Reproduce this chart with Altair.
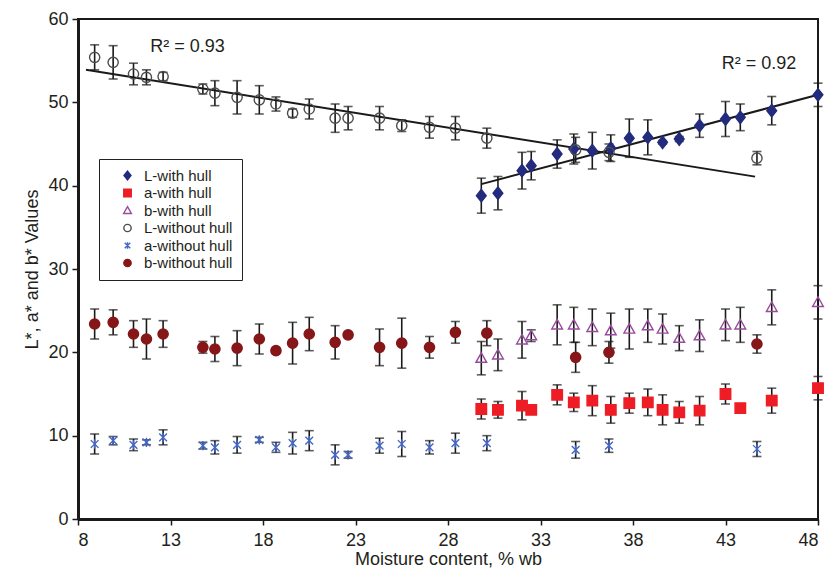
import altair as alt
import pandas as pd

# ---------------- data ----------------
# samples without hull (shared moisture contents)
wo_x = [8.9, 9.9, 11.0, 11.7, 12.6, 14.75, 15.4, 16.6, 17.8, 18.7, 19.6,
        20.5, 21.9, 22.6, 24.3, 25.5, 27.0, 28.4, 30.1, 34.9, 36.7, 44.7]
L_wo = [55.4, 54.8, 53.4, 53.0, 53.1, 51.6, 51.1, 50.6, 50.3, 49.8, 48.7,
        49.2, 48.1, 48.1, 48.1, 47.2, 47.0, 46.9, 45.7, 44.3, 44.0, 43.3]
L_wo_err = [1.5, 2.0, 1.3, 0.9, 0.5, 0.6, 1.5, 2.0, 1.7, 0.85, 0.5,
            1.2, 1.7, 1.4, 1.4, 0.7, 1.3, 1.4, 1.2, 1.5, 1.0, 0.8]
a_wo = [9.0, 9.4, 8.9, 9.2, 9.8, 8.8, 8.6, 8.9, 9.5, 8.6, 9.1,
        9.4, 7.7, 7.7, 8.8, 9.0, 8.6, 9.1, 9.1, 8.3, 8.8, 8.4]
a_wo_err = [1.2, 0.5, 0.7, 0.3, 0.9, 0.4, 0.8, 1.0, 0.3, 0.6, 1.3,
            1.2, 1.2, 0.4, 0.9, 1.5, 0.8, 1.2, 0.9, 1.0, 0.8, 0.9]
b_wo = [23.4, 23.6, 22.2, 21.6, 22.2, 20.6, 20.4, 20.5, 21.6, 20.2, 21.1,
        22.2, 21.2, 22.1, 20.6, 21.1, 20.6, 22.4, 22.3, 19.4, 20.0, 21.0]
b_wo_err = [1.8, 1.5, 1.6, 2.4, 1.6, 0.7, 1.5, 2.1, 1.8, 0.3, 2.5,
            2.0, 2.0, 0.3, 2.2, 3.0, 1.3, 1.3, 1.5, 1.8, 1.3, 1.1]

# samples with hull
wh_x = [29.8, 30.7, 32.0, 32.5, 33.9, 34.8, 35.8, 36.8, 37.8, 38.8, 39.6,
        40.5, 41.6, 43.0, 43.8, 45.5, 48.0]
L_wh = [38.8, 39.1, 41.8, 42.4, 43.8, 44.4, 44.2, 44.5, 45.7, 45.8, 45.2,
        45.6, 47.2, 48.0, 48.2, 49.0, 50.9]
L_wh_err = [2.1, 2.0, 2.2, 1.7, 1.7, 1.8, 2.2, 1.6, 2.3, 2.1, 0.2,
            0.3, 1.4, 2.1, 1.6, 1.7, 1.4]
a_wh = [13.2, 13.1, 13.6, 13.1, 14.9, 14.0, 14.2, 13.1, 13.9, 14.0, 13.1,
        12.8, 13.0, 15.0, 13.3, 14.2, 15.7]
a_wh_err = [1.2, 1.0, 1.7, 0.4, 1.2, 1.1, 1.8, 1.6, 1.2, 1.6, 1.8,
            1.3, 1.7, 1.2, 0.5, 1.5, 1.4]
b_wh = [19.3, 19.7, 21.5, 22.0, 23.3, 23.3, 23.0, 22.6, 22.8, 23.2, 22.8,
        21.7, 22.0, 23.3, 23.3, 25.4, 26.0]
b_wh_err = [2.0, 1.9, 2.2, 0.7, 2.4, 2.1, 2.2, 2.1, 2.4, 2.0, 1.8,
            1.5, 1.9, 1.9, 2.1, 2.1, 2.0]

series_names = ["L-with hull", "a-with hull", "b-with hull",
                "L-without hull", "a-without hull", "b-without hull"]

r2_text = ["R\u00b2 = 0.93", "R\u00b2 = 0.92"]
r2_x = [11.9, 42.8]
r2_y = [56.6, 54.6]

x_ticks = [8, 13, 18, 23, 28, 33, 38, 43, 48]

# ---------------- build tables ----------------
rows = []
def add(name, xs, ys, es):
    for x, y, e in zip(xs, ys, es):
        rows.append({"x": x, "y": y, "err": e, "lo": y - e, "hi": y + e,
                     "series": name})

add("L-with hull", wh_x, L_wh, L_wh_err)
add("a-with hull", wh_x, a_wh, a_wh_err)
add("b-with hull", wh_x, b_wh, b_wh_err)
add("L-without hull", wo_x, L_wo, L_wo_err)
add("a-without hull", wo_x, a_wo, a_wo_err)
add("b-without hull", wo_x, b_wo, b_wo_err)
df = pd.DataFrame(rows)

df_Lwo = pd.DataFrame({"x": wo_x, "y": L_wo})
df_Lwh = pd.DataFrame({"x": wh_x, "y": L_wh})
df_r2 = pd.DataFrame({"x": r2_x, "y": r2_y, "t": r2_text})

FONT = "Liberation Sans, Arial, sans-serif"
TXT = "#231f20"

xs = alt.Scale(domain=[8, 48], nice=False, zero=False)
ys = alt.Scale(domain=[0, 60], nice=False)

X = alt.X("x:Q", scale=xs, title="Moisture content, % wb",
          axis=alt.Axis(values=x_ticks, grid=False))
Y = alt.Y("y:Q", scale=ys, title="L*, a* and b* Values",
          axis=alt.Axis(values=[0, 10, 20, 30, 40, 50, 60], grid=False))

base = alt.Chart(df)

err_rule = base.mark_rule(color="#1a1a1a", strokeWidth=1.6).encode(
    x=X, y=alt.Y("lo:Q", scale=ys, title="L*, a* and b* Values"), y2="hi:Q")
cap_lo = base.mark_tick(color="#1a1a1a", orient="horizontal", size=9,
                        thickness=1.6).encode(
    x=X, y=alt.Y("lo:Q", scale=ys, title="L*, a* and b* Values"))
cap_hi = base.mark_tick(color="#1a1a1a", orient="horizontal", size=9,
                        thickness=1.6).encode(
    x=X, y=alt.Y("hi:Q", scale=ys, title="L*, a* and b* Values"))

# symbol outlines in the unit square (-1..1), drawn at one common size
diamond = "M-0.78,0L0,-1L0.78,0L0,1Z"
square = "M-0.84,-0.84L0.84,-0.84L0.84,0.84L-0.84,0.84Z"
triangle = "M0,-0.86L0.86,0.66L-0.86,0.66Z"
circle = "M-0.82,0A0.82,0.82,0,1,0,0.82,0A0.82,0.82,0,1,0,-0.82,0Z"
asterisk = "M0,-0.75L0,0.75M-0.62,-0.62L0.62,0.62M-0.62,0.62L0.62,-0.62"

shape_scale = alt.Scale(domain=series_names,
                        range=[diamond, square, triangle, circle,
                               asterisk, circle])
fill_scale = alt.Scale(domain=series_names,
                       range=["#232b7d", "#ee1d25", "transparent",
                              "transparent", "transparent", "#861617"])
stroke_scale = alt.Scale(domain=series_names,
                         range=["#232b7d", "#ee1d25", "#9a4a9e", "#4d4d4d",
                                "#4466c4", "#861617"])

legend = alt.Legend(title=None)

points = base.mark_point(strokeWidth=1.4, opacity=1, size=156).encode(
    x=X, y=Y,
    shape=alt.Shape("series:N", scale=shape_scale, legend=legend),
    fill=alt.Fill("series:N", scale=fill_scale, legend=legend),
    stroke=alt.Stroke("series:N", scale=stroke_scale, legend=legend),
)

reg1 = alt.Chart(df_Lwo).transform_regression(
    "x", "y", extent=[8.43, 44.6]).mark_line(color="#1a1a1a", strokeWidth=2).encode(x=X, y=Y)
reg2 = alt.Chart(df_Lwh).transform_regression(
    "x", "y", extent=[29.8, 48.0]).mark_line(color="#1a1a1a", strokeWidth=2).encode(x=X, y=Y)

r2 = alt.Chart(df_r2).mark_text(align="left", baseline="middle", fontSize=18,
                                 font=FONT, color=TXT).encode(x=X, y=Y, text="t:N")

chart = alt.layer(reg1, reg2, err_rule, cap_lo, cap_hi, points, r2).properties(
    width=740, height=500,
    autosize=alt.AutoSizeParams(type="none"),
    padding={"left": 70, "top": 11, "right": 11, "bottom": 51},
).configure_view(
    stroke="#1a1a1a", strokeWidth=2
).configure_axis(
    domainColor="#1a1a1a", domainWidth=3,
    tickColor="#1a1a1a", tickWidth=1.5, tickSize=6,
    labelFont=FONT, labelFontSize=18, labelColor=TXT, labelPadding=4,
    titleFont=FONT, titleFontSize=18, titleColor=TXT, titleFontWeight="normal",
).configure_axisX(
    labelPadding=6, titlePadding=1
).configure_axisY(
    titlePadding=6
).configure_legend(
    orient="none", legendX=21, legendY=140,
    strokeColor="#222222", fillColor="white", padding=9,
    symbolOffset=12, labelOffset=9,
    rowPadding=1.5, labelFontSize=15, labelFont=FONT, labelColor=TXT,
    symbolStrokeWidth=1.4, symbolSize=80,
)

chart.save("out.html", embed_options={"renderer": "svg", "actions": False})
